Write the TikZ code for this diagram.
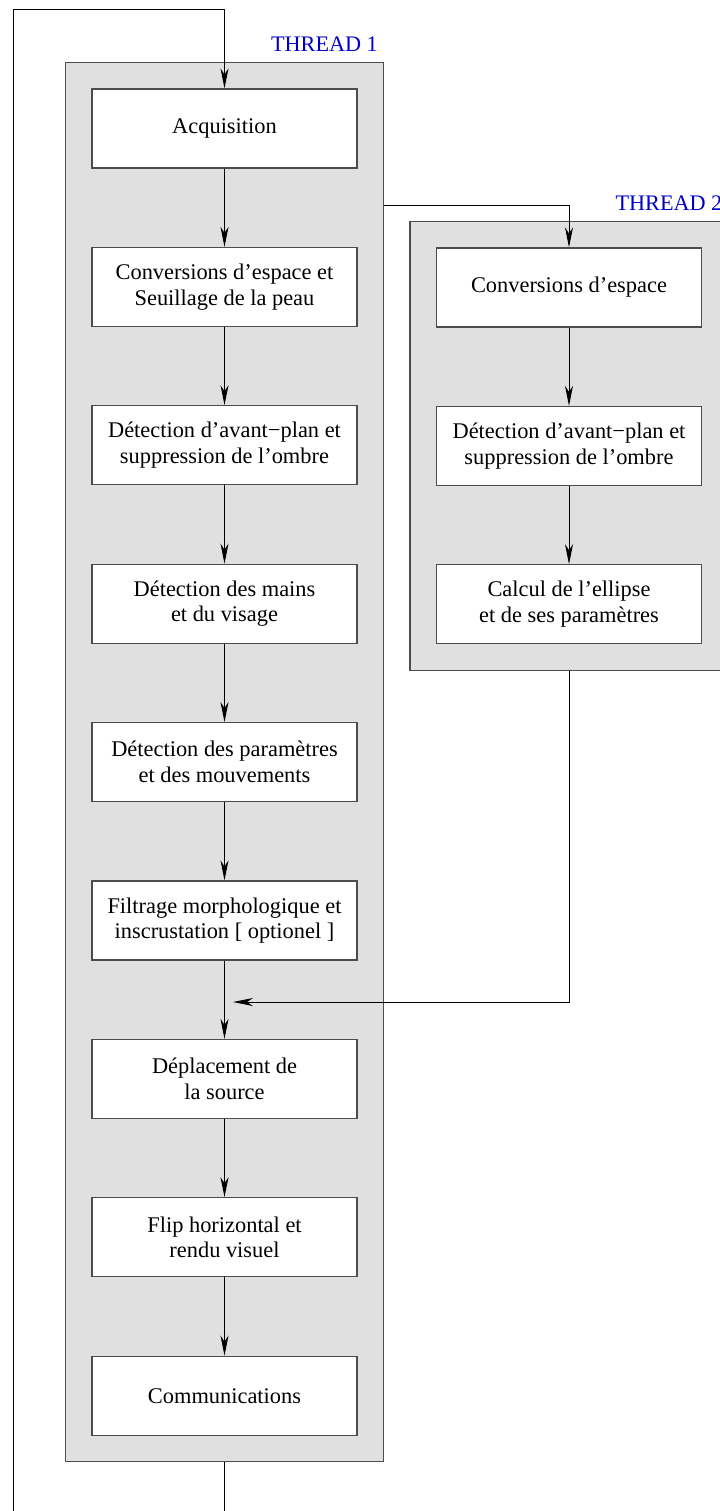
\documentclass[tikz,border=0pt]{standalone}
\usepackage{fontspec}
\setmainfont{Liberation Serif}
\usetikzlibrary{positioning,arrows.meta,fit,backgrounds}
\definecolor{threadblue}{RGB}{0,0,200}
\definecolor{threadgray}{RGB}{224,224,224}

\tikzset{
  stage/.style={draw=black!70, fill=white, line width=0.6pt,
    minimum width=132.5pt, minimum height=39.5pt, inner sep=2pt,
    align=center, font=\fontsize{11.2}{12.8}\selectfont},
  thread/.style={draw=black!70, fill=threadgray, line width=0.6pt,
    inner xsep=13pt, inner ysep=13pt},
  threadlabel/.style={text=threadblue, anchor=base east, inner sep=0pt,
    font=\fontsize{11.1}{12.8}\selectfont},
  flow/.style={-{Stealth[length=10pt,width=4pt,inset=3pt]}, line width=0.5pt},
}

\begin{document}
\begin{tikzpicture}[x=0.5pt,y=0.5pt]
  \useasboundingbox (0,0) rectangle (719,-1511);

  % thread 1
  \node[stage] (acq) at (224.5,-128.5) {Acquisition};
  \node[stage, below=39.1pt of acq] (conv) {Conversions d’espace et\\Seuillage de la peau};
  \node[stage, below=39.1pt of conv] (det) {Détection d’avant−plan et\\suppression de l’ombre};
  \node[stage, below=39.1pt of det] (mains) {Détection des mains\\et du visage};
  \node[stage, below=39.1pt of mains] (param) {Détection des paramètres\\et des mouvements};
  \node[stage, below=39.1pt of param] (filt) {Filtrage morphologique et\\inscrustation [ optionel ]};
  \node[stage, below=39.1pt of filt] (depl) {Déplacement de\\la source};
  \node[stage, below=39.1pt of depl] (flip) {Flip horizontal et\\rendu visuel};
  \node[stage, below=39.1pt of flip] (comm) {Communications};

  % thread 2
  \node[stage] (conv2) at (569,-287.5) {Conversions d’espace};
  \node[stage, below=39.1pt of conv2] (det2) {Détection d’avant−plan et\\suppression de l’ombre};
  \node[stage, below=39.1pt of det2] (calc) {Calcul de l’ellipse\\et de ses paramètres};

  \begin{scope}[on background layer]
    \node[thread, fit=(acq)(comm)] (t1) {};
    \node[thread, fit=(conv2)(calc)] (t2) {};
  \end{scope}
  \node[threadlabel] (lab1) at ([xshift=-3pt,yshift=5pt]t1.north east) {THREAD 1};
  \node[threadlabel] (lab2) at ([xshift=-3pt,yshift=5pt]t2.north east) {THREAD 2};

  \foreach \a/\b in {acq/conv,conv/det,det/mains,mains/param,param/filt,
                     filt/depl,depl/flip,flip/comm,conv2/det2,det2/calc}
    \draw[flow] (\a) -- (\b);

  % loop back and fork / merge
  \coordinate (exit) at (224.5,-1530);
  \coordinate (loop) at (13,-9);
  \coordinate (fork) at (t1.east |- 0,-205);
  \coordinate (merge) at (233,-1002);
  \draw[flow] (t1.south) -- (exit) -| (loop) -| (acq.north);
  \draw[flow] (fork) -| (conv2.north);
  \draw[flow] (t2.south) |- (merge);
\end{tikzpicture}
\end{document}
